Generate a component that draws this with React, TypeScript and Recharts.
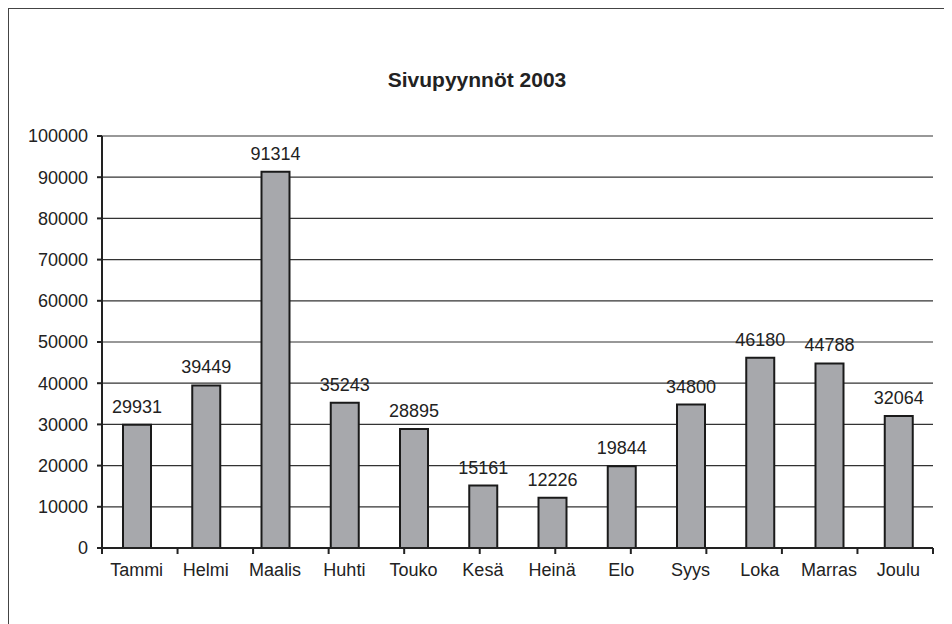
import { ComposedChart, Bar, XAxis, YAxis, CartesianGrid, LabelList } from "recharts";

const months = ["Tammi", "Helmi", "Maalis", "Huhti", "Touko", "Kesä", "Heinä", "Elo", "Syys", "Loka", "Marras", "Joulu"];
const requests = [29931, 39449, 91314, 35243, 28895, 15161, 12226, 19844, 34800, 46180, 44788, 32064];
const yTicks = [0, 10000, 20000, 30000, 40000, 50000, 60000, 70000, 80000, 90000, 100000];
const boundaryTicks = [0, 1, 2, 3, 4, 5, 6, 7, 8, 9, 10, 11, 12];

const data = months.map((m, i) => ({ month: m, value: requests[i] }));

const font = '"Liberation Sans", Arial, sans-serif';

export default function App() {
  return (
    <div
      style={{
        position: "relative",
        width: 943,
        height: 615,
        borderLeft: "1px solid #444",
        borderTop: "1px solid #444",
        fontFamily: font,
        background: "#fff",
      }}
    >
      <div
        style={{
          position: "absolute",
          top: 59,
          left: 0,
          width: 936,
          textAlign: "center",
          fontWeight: "bold",
          fontSize: 21,
          color: "#222",
        }}
      >
        Sivupyynnöt 2003
      </div>
      <ComposedChart
        width={943}
        height={615}
        data={data}
        margin={{ top: 127, right: 19, left: 33, bottom: 30 }}
      >
        <CartesianGrid vertical={false} stroke="#333" strokeWidth={1.2} />
        {/* boundary ticks between months */}
        <XAxis
          xAxisId="a"
          type="number"
          domain={[0, 12]}
          ticks={boundaryTicks}
          interval={0}
          tickFormatter={() => ""}
          tickSize={6}
          height={6}
          stroke="#222"
          strokeWidth={2}
        />
        <XAxis
          xAxisId="b"
          dataKey="month"
          axisLine={false}
          tickLine={false}
          tickSize={0}
          tickMargin={9}
          height={40}
          interval={0}
          tick={{ fill: "#222", fontSize: 18, fontFamily: font }}
        />
        <YAxis
          domain={[0, 100000]}
          ticks={yTicks}
          interval={0}
          width={60}
          tickSize={5}
          tickMargin={9}
          stroke="#222"
          strokeWidth={2}
          tick={{ fill: "#222", fontSize: 18, fontFamily: font }}
        />
        <YAxis
          yAxisId="frame"
          orientation="right"
          width={0}
          tick={false}
          tickLine={false}
          stroke="#222"
          strokeWidth={2}
        />
        <Bar
          dataKey="value"
          xAxisId="b"
          fill="#a7a8ac"
          stroke="#1a1a1a"
          strokeWidth={2}
          barSize={28}
          isAnimationActive={false}
        >
          <LabelList
            dataKey="value"
            position="top"
            offset={12}
            style={{ fill: "#222", fontSize: 18, fontFamily: font }}
          />
        </Bar>
      </ComposedChart>
    </div>
  );
}
